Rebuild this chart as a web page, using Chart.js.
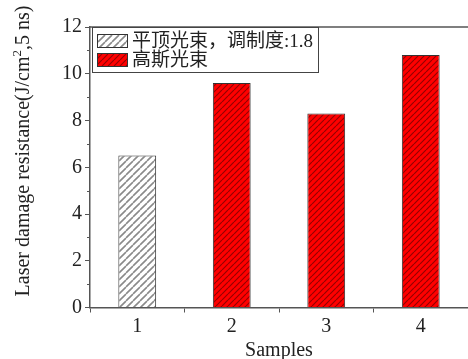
<!DOCTYPE html>
<html>
<head>
<meta charset="utf-8">
<script src="https://cdn.jsdelivr.net/npm/chart.js@4.4.1/dist/chart.umd.min.js"></script>
<style>
  html, body { margin: 0; padding: 0; background: #fff; }
  #wrap { width: 468px; height: 359px; }
</style>
</head>
<body>
<div id="wrap"><canvas id="c" width="468" height="359"></canvas></div>
<script>
// Sample categories and measured laser damage thresholds (J/cm², 5 ns)
const samples = ['1', '2', '3', '4'];
const flatTopBeam = [6.5, null, null, null];
const gaussianBeam = [null, 9.6, 8.3, 10.8];
const flatTopLabel = '平顶光束，调制度:1.8';
const gaussianLabel = '高斯光束';
const yTicks = [0, 2, 4, 6, 8, 10, 12];
const xTitle = 'Samples';
const yTitleParts = ['Laser damage resistance(J/cm', '2', ',5 ns)'];

const SERIF = '"Liberation Serif", "Times New Roman", serif';
const CJK = '"Liberation Serif", "Noto Sans CJK SC", serif';
const AXIS = '#555';

// Diagonal "/" hatch pattern
function hatch(bg, fg, size, width) {
  const c = document.createElement('canvas');
  c.width = size; c.height = size;
  const g = c.getContext('2d');
  g.fillStyle = bg; g.fillRect(0, 0, size, size);
  g.strokeStyle = fg; g.lineWidth = width;
  g.beginPath();
  for (let k = -1; k <= 1; k++) {
    g.moveTo(k * size, size); g.lineTo(k * size + size, 0);
  }
  g.stroke();
  return g.createPattern(c, 'repeat');
}
const flatFill = hatch('#ffffff', '#8a8a8a', 7, 1.6);
const gaussFill = hatch('#ff0000', '#960000', 6, 1.2);

const decorations = {
  id: 'decorations',
  afterDraw(chart) {
    const ctx = chart.ctx;
    const a = chart.chartArea;
    const y = chart.scales.y;
    ctx.save();
    // frame top edge
    ctx.strokeStyle = AXIS; ctx.lineWidth = 1.5;
    ctx.beginPath(); ctx.moveTo(a.left, a.top); ctx.lineTo(a.right, a.top); ctx.stroke();
    // minor ticks on y axis
    ctx.lineWidth = 1;
    for (let v = 1; v < 12; v += 2) {
      const py = Math.round(y.getPixelForValue(v)) + 0.5;
      ctx.beginPath(); ctx.moveTo(a.left - 3, py); ctx.lineTo(a.left, py); ctx.stroke();
    }
    // legend box
    const bx = a.left + 2, by = a.top, bw = 226, bh = 45;
    ctx.fillStyle = '#fff';
    ctx.fillRect(bx, by, bw, bh);
    ctx.strokeStyle = '#444'; ctx.lineWidth = 1;
    ctx.strokeRect(bx + 0.5, by + 0.5, bw, bh);
    const items = [
      { fill: flatFill, text: flatTopLabel, cy: by + 14 },
      { fill: gaussFill, text: gaussianLabel, cy: by + 33 }
    ];
    ctx.font = '19px ' + CJK;
    ctx.textBaseline = 'middle';
    ctx.textAlign = 'left';
    items.forEach(it => {
      ctx.fillStyle = it.fill;
      ctx.fillRect(bx + 5, it.cy - 7, 31, 14);
      ctx.strokeStyle = '#333';
      ctx.strokeRect(bx + 5.5, it.cy - 6.5, 30, 13);
      ctx.fillStyle = '#222';
      ctx.fillText(it.text, bx + 40, it.cy + 1);
    });
    // y-axis title with superscript
    ctx.translate(22, 151);
    ctx.rotate(-Math.PI / 2);
    const big = '20px ' + SERIF, small = '13px ' + SERIF;
    ctx.font = big; const w0 = ctx.measureText(yTitleParts[0]).width;
    const w2 = ctx.measureText(yTitleParts[2]).width;
    ctx.font = small; const w1 = ctx.measureText(yTitleParts[1]).width;
    let x = -(w0 + w1 + w2) / 2;
    ctx.fillStyle = '#222';
    ctx.textBaseline = 'alphabetic';
    ctx.font = big; ctx.fillText(yTitleParts[0], x, 7); x += w0;
    ctx.font = small; ctx.fillText(yTitleParts[1], x, -1); x += w1;
    ctx.font = big; ctx.fillText(yTitleParts[2], x, 7);
    ctx.restore();
  }
};

new Chart(document.getElementById('c'), {
  type: 'bar',
  data: {
    labels: samples,
    datasets: [
      { label: flatTopLabel, data: flatTopBeam, backgroundColor: flatFill, borderColor: '#333', borderWidth: 1 },
      { label: gaussianLabel, data: gaussianBeam, backgroundColor: gaussFill, borderColor: '#333', borderWidth: 1 }
    ]
  },
  options: {
    responsive: false,
    animation: false,
    devicePixelRatio: 1,
    layout: { padding: { top: 27, right: 0, left: 0, bottom: 0 } },
    datasets: { bar: { grouped: false, barPercentage: 0.4, categoryPercentage: 1 } },
    plugins: { legend: { display: false }, tooltip: { enabled: false } },
    scales: {
      x: {
        grid: { drawOnChartArea: false, tickLength: 5, color: AXIS, tickColor: AXIS },
        border: { color: AXIS, width: 1.5 },
        ticks: { color: '#222', font: { family: SERIF, size: 20 }, padding: 2 },
        title: { display: true, text: xTitle, color: '#222', font: { family: SERIF, size: 20, lineHeight: 0.8 }, padding: { top: 0, bottom: 0 } },
        afterFit(s) { s.height = 51.5; }
      },
      y: {
        min: 0, max: 12,
        afterBuildTicks(s) { s.ticks = yTicks.map(v => ({ value: v })); },
        grid: { drawOnChartArea: false, tickLength: 5, color: AXIS, tickColor: AXIS },
        border: { color: AXIS, width: 1.5 },
        ticks: { color: '#222', font: { family: SERIF, size: 20 }, padding: 3 },
        afterFit(s) { s.width = 90; }
      }
    }
  },
  plugins: [decorations]
});
</script>
</body>
</html>
